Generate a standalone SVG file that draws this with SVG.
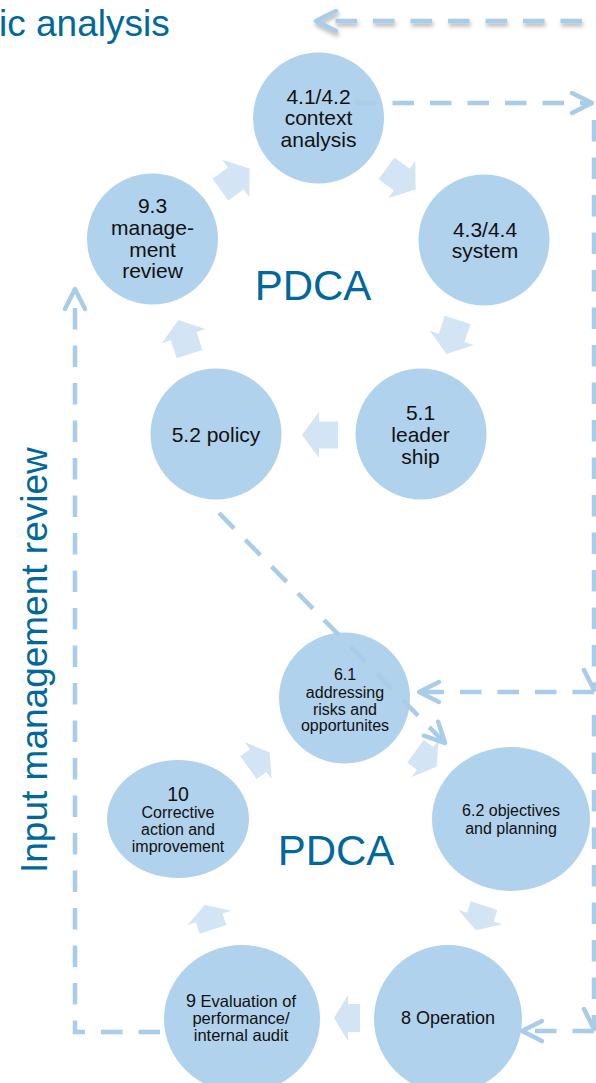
<svg xmlns="http://www.w3.org/2000/svg" width="596" height="1083" viewBox="0 0 596 1083">
  <style>
    .node { fill: #B0D2EC; }
    .blk { fill: #D3E5F4; }
    .lbl { font-family: "Liberation Sans", Arial, sans-serif; fill: #111111; text-anchor: middle; }
    .big { font-family: "Liberation Sans", Arial, sans-serif; fill: #00689A; }
    .dash { fill: none; stroke: #A9CCE9; stroke-width: 4.5; stroke-dasharray: 21.5 16; }
  </style>
  <defs>
    <path id="barrowA" d="M18,0 L1,-23 L1,-13.5 L-18,-13.5 L-18,13.5 L1,13.5 L1,23 Z"/>
    <path id="barrowB" d="M13,0 L-1,-23 L-1,-14 L-13,-14 L-13,14 L-1,14 L-1,23 Z"/>
    <marker id="head" markerUnits="userSpaceOnUse" markerWidth="30" markerHeight="30" viewBox="-24 -15 30 30" refX="0" refY="0" orient="auto">
      <path d="M-20,-10 L0,0 L-20,10" fill="none" stroke="#A9CCE9" stroke-width="4.5" stroke-linecap="round" stroke-linejoin="round"/>
    </marker>
    <filter id="shadow" filterUnits="userSpaceOnUse" x="290" y="0" width="320" height="50">
      <feDropShadow dx="1" dy="3" stdDeviation="2" flood-color="#555555" flood-opacity="0.45"/>
    </filter>
  </defs>

  <rect width="596" height="1083" fill="#FFFFFF"/>

  <text class="big" x="-1" y="36" font-size="37">ic analysis</text>
  <text class="big" transform="translate(47,873) rotate(-90)" font-size="37">Input management review</text>
  <text class="big" x="313" y="300" font-size="42" text-anchor="middle">PDCA</text>
  <text class="big" x="336" y="865" font-size="42" text-anchor="middle">PDCA</text>

  <g id="cycle-arrows">
    <use href="#barrowA" class="blk" transform="translate(401,179) rotate(36)"/>
    <use href="#barrowA" class="blk" transform="translate(452,337) rotate(108)"/>
    <use href="#barrowA" class="blk" transform="translate(320,435) rotate(180)"/>
    <use href="#barrowA" class="blk" transform="translate(184,337) rotate(252)"/>
    <use href="#barrowA" class="blk" transform="translate(235,179) rotate(324)"/>
    <use href="#barrowB" class="blk" transform="translate(426,759) rotate(36)"/>
    <use href="#barrowB" class="blk" transform="translate(480,918) rotate(108)"/>
    <use href="#barrowB" class="blk" transform="translate(347,1018) rotate(180)"/>
    <use href="#barrowB" class="blk" transform="translate(209,917) rotate(252)"/>
    <use href="#barrowB" class="blk" transform="translate(259,760) rotate(324)"/>
  </g>

  <g id="n41">
    <circle class="node" cx="318.5" cy="118" r="65.5"/>
    <text class="lbl" font-size="21" x="318.5" y="103.5">4.1/4.2</text>
    <text class="lbl" font-size="21" x="318.5" y="125">context</text>
    <text class="lbl" font-size="21" x="318.5" y="146.5">analysis</text>
  </g>
  <g id="n43">
    <circle class="node" cx="484" cy="240" r="65.5"/>
    <text class="lbl" font-size="21" x="485" y="237">4.3/4.4</text>
    <text class="lbl" font-size="21" x="485" y="258">system</text>
  </g>
  <g id="n51">
    <circle class="node" cx="421" cy="434" r="65.5"/>
    <text class="lbl" font-size="21" x="420.5" y="420">5.1</text>
    <text class="lbl" font-size="21" x="420.5" y="442">leader</text>
    <text class="lbl" font-size="21" x="420.5" y="463.5">ship</text>
  </g>
  <g id="n52">
    <circle class="node" cx="216" cy="434" r="65.5"/>
    <text class="lbl" font-size="21" x="216" y="442">5.2 policy</text>
  </g>
  <g id="n93">
    <circle class="node" cx="152.5" cy="239" r="65.5"/>
    <text class="lbl" font-size="21" x="152.5" y="213">9.3</text>
    <text class="lbl" font-size="21" x="152.5" y="234.5">manage-</text>
    <text class="lbl" font-size="21" x="152.5" y="256.5">ment</text>
    <text class="lbl" font-size="21" x="152.5" y="278">review</text>
  </g>

  <g id="n61">
    <circle class="node" cx="344.5" cy="698" r="65.5"/>
    <text class="lbl" font-size="16" x="345" y="680">6.1</text>
    <text class="lbl" font-size="16" x="345" y="698">addressing</text>
    <text class="lbl" font-size="16" x="345" y="715">risks and</text>
    <text class="lbl" font-size="16" x="345" y="731">opportunites</text>
  </g>
  <g id="n62">
    <ellipse class="node" cx="511" cy="819" rx="79" ry="72"/>
    <text class="lbl" font-size="16" x="511" y="816">6.2 objectives</text>
    <text class="lbl" font-size="16" x="511" y="833.5">and planning</text>
  </g>
  <g id="n8">
    <ellipse class="node" cx="448" cy="1019" rx="74" ry="74"/>
    <text class="lbl" font-size="18" x="448" y="1023.5">8 Operation</text>
  </g>
  <g id="n9">
    <ellipse class="node" cx="242" cy="1019" rx="78" ry="74"/>
    <text class="lbl" font-size="16.5" x="241" y="1006.5"><tspan font-size="18">9</tspan> Evaluation of</text>
    <text class="lbl" font-size="16.5" x="241" y="1024">performance/</text>
    <text class="lbl" font-size="16.5" x="241" y="1041">internal audit</text>
  </g>
  <g id="n10">
    <ellipse class="node" cx="178" cy="819" rx="71" ry="59"/>
    <text class="lbl" font-size="19.5" x="178" y="801">10</text>
    <text class="lbl" font-size="16" x="178" y="818">Corrective</text>
    <text class="lbl" font-size="16" x="178" y="835">action and</text>
    <text class="lbl" font-size="16" x="178" y="851.5">improvement</text>
  </g>

  <g id="connectors">
    <path class="dash" d="M582,21 H316" marker-end="url(#head)" filter="url(#shadow)"/>
    <path class="dash" d="M355,103 H592" marker-end="url(#head)"/>
    <path class="dash" d="M594,120 V690" marker-end="url(#head)"/>
    <path class="dash" d="M594,692 H419" marker-end="url(#head)"/>
    <path class="dash" d="M594,715 V1029" marker-end="url(#head)"/>
    <path class="dash" d="M594,1031 H522" marker-end="url(#head)"/>
    <path class="dash" d="M160,1032 H75 V289" marker-end="url(#head)"/>
    <path class="dash" d="M219,513 L445,743" marker-end="url(#head)"/>
  </g>
</svg>
